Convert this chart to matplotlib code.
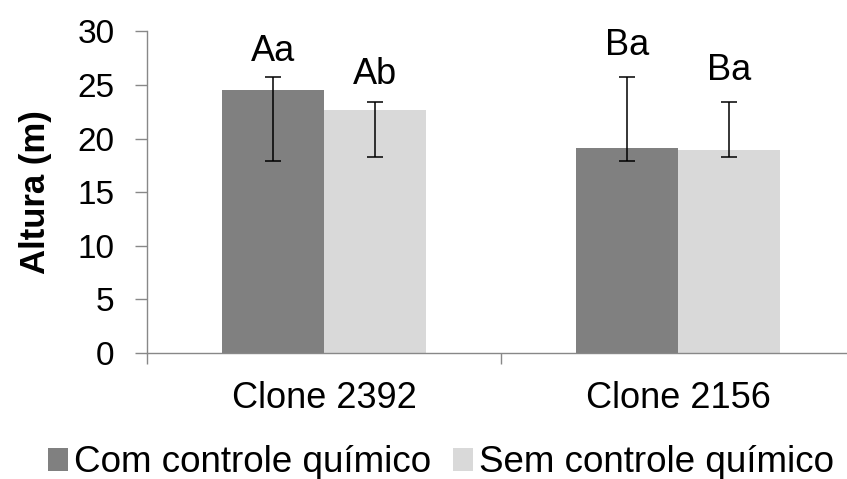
import numpy as np
import matplotlib
matplotlib.use("Agg")
import matplotlib.pyplot as plt

#
# --- Data
#
categories = ["Clone 2392", "Clone 2156"]
series_names = ["Com controle químico", "Sem controle químico"]
com_vals = [24.5, 19.1]
sem_vals = [22.7, 18.9]
com_err_low = [17.9, 17.9]
com_err_high = [25.7, 25.7]
sem_err_low = [18.25, 18.25]
sem_err_high = [23.4, 23.4]
com_letters = ["Aa", "Ba"]
sem_letters = ["Ab", "Ba"]
com_letter_y = [27.2, 27.8]
sem_letter_y = [25.1, 25.5]
y_ticks = [0, 5, 10, 15, 20, 25, 30]

plt.rcParams["font.family"] = ["Liberation Sans", "DejaVu Sans"]

DARK = "#808080"
LIGHT = "#d9d9d9"
AXIS_GRAY = "#888888"
BAR_W = 0.287

fig = plt.figure(figsize=(8.47, 4.79), dpi=100)
ax = fig.add_axes([147 / 847, 126 / 479, 708 / 847, 321.7 / 479])

x = np.arange(len(categories))
com = np.array(com_vals)
sem = np.array(sem_vals)
com_yerr = [com - np.array(com_err_low), np.array(com_err_high) - com]
sem_yerr = [sem - np.array(sem_err_low), np.array(sem_err_high) - sem]

err_kw = {"ecolor": "black", "elinewidth": 1.1, "capsize": 6, "capthick": 1.1}
ax.bar(x - BAR_W / 2, com, BAR_W, color=DARK, yerr=com_yerr,
       error_kw=err_kw, label=series_names[0])
ax.bar(x + BAR_W / 2, sem, BAR_W, color=LIGHT, yerr=sem_yerr,
       error_kw=err_kw, label=series_names[1])

#
# --- Significance letters
#
for i in range(len(categories)):
    ax.text(x[i] - BAR_W / 2, com_letter_y[i], com_letters[i],
            ha="center", va="baseline", fontsize=26)
    ax.text(x[i] + BAR_W / 2, sem_letter_y[i], sem_letters[i],
            ha="center", va="baseline", fontsize=26)

#
# --- Axes styling
#
ax.set_xlim(-0.5, len(categories) - 0.5)
ax.set_ylim(0, 30)
ax.set_yticks(y_ticks)
ax.tick_params(axis="y", labelsize=24, length=8.5, width=1,
               color=AXIS_GRAY, pad=15)
ax.set_xticks(np.arange(len(categories) + 1) - 0.5)
ax.set_xticklabels([])
ax.set_xticks(x, minor=True)
ax.set_xticklabels(categories, minor=True, fontsize=26)
ax.tick_params(axis="x", which="major", length=8, width=1, color=AXIS_GRAY)
ax.tick_params(axis="x", which="minor", length=0, pad=20)
for side in ["top", "right"]:
    ax.spines[side].set_visible(False)
for side in ["left", "bottom"]:
    ax.spines[side].set_color(AXIS_GRAY)
    ax.spines[side].set_linewidth(1)

ax.set_ylabel("Altura (m)", fontsize=25, fontweight="bold", labelpad=18)

fig.legend(loc="center", bbox_to_anchor=(441 / 847, 1 - 463 / 479), ncol=2,
           frameon=False, fontsize=26.5, handlelength=0.55, handleheight=0.55,
           handletextpad=0.15, columnspacing=0.6, borderaxespad=0,
           borderpad=0)

fig.savefig("out.png", dpi=100)
